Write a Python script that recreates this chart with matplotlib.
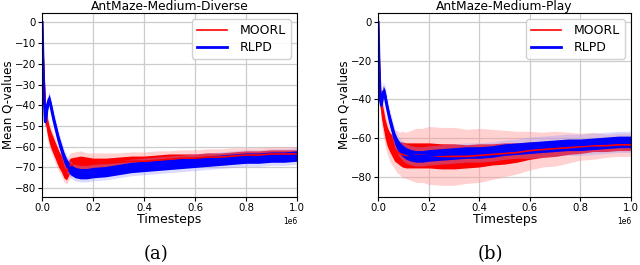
import numpy as np
import matplotlib
matplotlib.use("Agg")
from matplotlib import pyplot as plt

# timesteps (in units of 1e6)
steps = [0, 0.003, 0.008, 0.012, 0.016, 0.02, 0.027, 0.035, 0.045, 0.055,
         0.065, 0.075, 0.085, 0.095, 0.11, 0.13, 0.15, 0.175, 0.2, 0.25,
         0.3, 0.35, 0.4, 0.45, 0.5, 0.55, 0.6, 0.65, 0.7, 0.75, 0.8, 0.85,
         0.9, 0.95, 1.0]

# AntMaze-Medium-Diverse
diverse_moorl = [0, -14, -30, -42, -47, -50, -54, -57, -60, -63,
                 -66, -68, -71, -72, -69, -68, -67.5, -68, -68, -68,
                 -67.5, -67, -67, -66.5, -66, -65.5, -65.5, -65, -65, -64.5, -64, -64,
                 -63.5, -63.5, -63.5]
diverse_rlpd = [0, -18, -38, -48, -45, -40, -37, -41, -47, -52,
                -57, -61, -65, -68, -71, -72.5, -73, -73, -72.5, -72,
                -71, -70, -69.5, -69, -68.5, -68, -67.5, -67, -66.5, -66, -65.5, -65.5,
                -65, -65, -64.5]
diverse_moorl_inner = [1, 3, 4, 4, 4, 4, 4, 4, 4, 4, 4, 4, 4, 4, 3.5, 3, 3, 3, 2.5, 2.5,
                       2.5, 2.5, 2.5, 2.5, 2.5, 2, 2, 2, 2, 2, 2, 2, 2, 2, 2]
diverse_moorl_outer = [2, 5, 6, 6, 6, 6, 6, 6, 6, 6, 6, 6, 6, 6, 6, 5.5, 5.5, 5, 5, 5,
                       4.5, 4.5, 4.5, 4.5, 4, 4, 4, 4, 4, 4, 3.5, 3.5, 3.5, 3.5, 3.5]
diverse_rlpd_inner = [1, 2, 2.5, 2.5, 2.5, 2.5, 2.5, 2.5, 2.5, 2.5, 2.5, 2.5, 2.5, 2.5,
                      2.5, 2.5, 2.5, 2.5, 2.5, 2.5, 2.5, 2.5, 2.5, 2.5, 2.5, 2.5, 2.5,
                      2.5, 2.5, 2.5, 2.5, 2.5, 2.5, 2.5, 2.5]
diverse_rlpd_outer = [2, 3, 4, 4, 4, 4, 4, 4, 4, 4, 4, 4, 4, 4, 4, 4, 4, 4, 4, 4,
                      4, 4, 4, 4, 4, 4, 4, 4, 4, 4, 4, 4, 4, 4, 4]

# AntMaze-Medium-Play
play_moorl = [0, -15, -35, -44, -47, -50, -55, -59, -62, -64,
              -66, -67, -68, -68.5, -69, -69, -69, -69, -69, -69.5,
              -69.5, -69.5, -69, -68.5, -68, -67.5, -66.5, -66, -65.5, -65, -64.5, -64,
              -64, -63.5, -63.5]
play_rlpd = [0, -20, -40, -43, -39, -36, -38, -44, -50, -55,
             -60, -63, -65, -66.5, -68, -69, -69.5, -69.5, -69, -68.5,
             -68, -67.5, -67.5, -67, -66, -65.5, -65, -64.5, -64, -63.5, -63.5, -63,
             -62.5, -62, -62]
play_moorl_inner = [1, 3, 4, 5, 5, 5, 5, 5, 5, 5.5, 6, 6, 6, 6.5, 6.5, 6.5, 6.5, 6.5,
                    6.5, 6.5, 6.5, 6, 6, 5.5, 5.5, 5, 4.5, 4, 4, 3.5, 3.5, 3, 3, 3, 3]
play_moorl_outer = [2, 6, 8, 9, 9, 9, 9, 9, 10, 10, 10, 11, 11, 12, 12, 13, 14, 14,
                    15, 15, 15, 14, 14, 13, 12, 11, 10, 9, 9, 8, 7, 7, 6, 6, 6]
play_rlpd_inner = [1, 2, 3, 3, 3, 3, 3, 3, 3, 3, 3, 3, 3, 3, 3, 3, 3, 3, 3, 3,
                   3, 3, 3, 3, 3, 3, 3, 3, 3, 3, 3, 3, 3, 3, 3]
play_rlpd_outer = [2, 4, 5, 5, 5, 5, 5, 5, 5, 5, 5, 5, 5, 5, 5, 5, 5, 5, 5, 5,
                   5, 5, 5, 5, 5, 5, 5.5, 5.5, 5.5, 5.5, 5.5, 5.5, 5.5, 5.5, 5.5]

panels = [
    ("AntMaze-Medium-Diverse", diverse_moorl, diverse_moorl_inner, diverse_moorl_outer,
     diverse_rlpd, diverse_rlpd_inner, diverse_rlpd_outer,
     [0, -10, -20, -30, -40, -50, -60, -70, -80], (-84.2, 4.5), "(a)"),
    ("AntMaze-Medium-Play", play_moorl, play_moorl_inner, play_moorl_outer,
     play_rlpd, play_rlpd_inner, play_rlpd_outer,
     [0, -20, -40, -60, -80], (-90.5, 4.8), "(b)"),
]

fig = plt.figure(figsize=(6.4, 2.65), dpi=100)
rects = [[0.066, 0.257, 0.398, 0.694], [0.591, 0.257, 0.395, 0.694]]
caption_x = [0.244, 0.766]

x = np.array(steps) * 1e6
for i, (title, m, mi, mo, r, ri, ro, yt, ylim, cap) in enumerate(panels):
    ax = fig.add_axes(rects[i])
    m, mi, mo = np.array(m), np.array(mi), np.array(mo)
    r, ri, ro = np.array(r), np.array(ri), np.array(ro)

    ax.fill_between(x, m - mo, m + mo, color="#ff9999", alpha=0.45, lw=0)
    ax.fill_between(x, m - mi, m + mi, color="red", lw=0)
    ax.fill_between(x, r - ro, r + ro, color="#9999ff", alpha=0.35, lw=0)
    ax.fill_between(x, r - ri, r + ri, color="blue", lw=0)
    ax.plot(x, m, color="red", lw=1.2, label="MOORL")
    ax.plot(x, r, color="blue", lw=2, label="RLPD")

    ax.set_xlim(0, 1e6)
    ax.set_ylim(*ylim)
    ax.set_yticks(yt)
    ax.set_xticks([0, 0.2e6, 0.4e6, 0.6e6, 0.8e6, 1e6])
    ax.grid(True, color="#cccccc", lw=0.9)
    ax.set_axisbelow(True)
    ax.tick_params(labelsize=7.3, length=3, width=0.8, pad=1.5)
    ax.xaxis.get_offset_text().set_fontsize(5.5)
    ax.set_title(title, fontsize=8.8, pad=2)
    ax.set_xlabel("Timesteps", fontsize=9, labelpad=0)
    ax.set_ylabel("Mean Q-values", fontsize=8.6, labelpad=0)
    for s in ax.spines.values():
        s.set_linewidth(0.8)
    ax.legend(loc="upper right", fontsize=9, handlelength=2.4, borderpad=0.4,
              labelspacing=0.3, handletextpad=1.0, framealpha=0.9)

    fig.text(caption_x[i], 0.04, cap, ha="center", va="center", fontsize=13,
             family="DejaVu Serif")

plt.savefig("out.png", dpi=100)
